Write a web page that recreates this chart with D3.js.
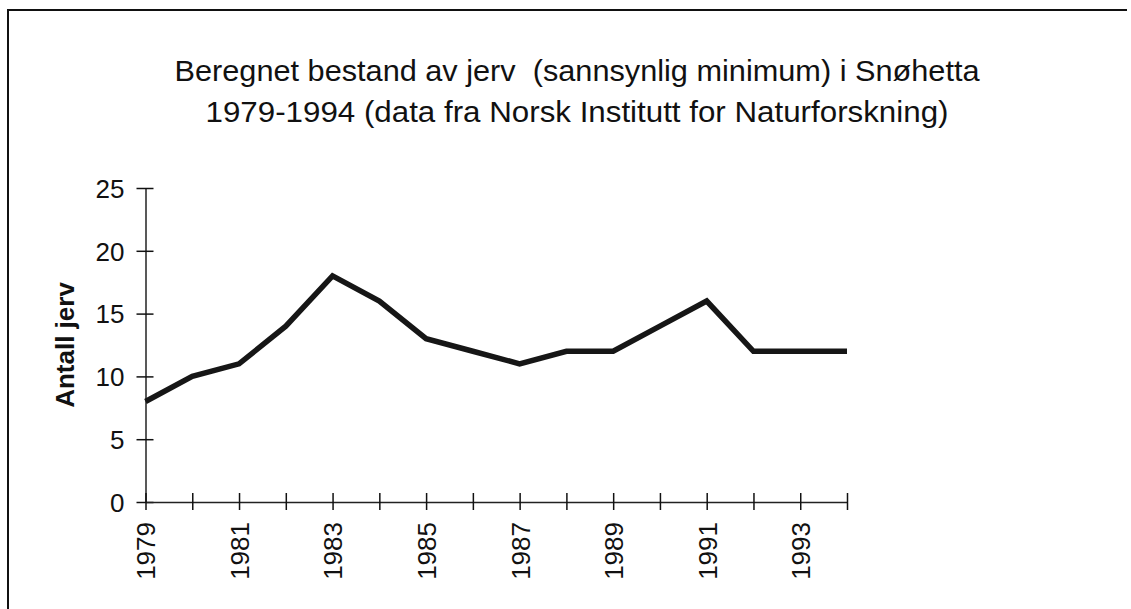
<!DOCTYPE html>
<html>
<head>
<meta charset="utf-8">
<script src="https://cdn.jsdelivr.net/npm/d3@7"></script>
<style>
  html, body { margin: 0; padding: 0; background: #fff; }
  svg { display: block; font-family: "Liberation Sans", Arial, sans-serif; }
</style>
</head>
<body>
<div id="wrapper"></div>
<script>
// data
const years = [1979, 1980, 1981, 1982, 1983, 1984, 1985, 1986, 1987, 1988, 1989, 1990, 1991, 1992, 1993, 1994];
const antall = [8, 10, 11, 14, 18, 16, 13, 12, 11, 12, 12, 14, 16, 12, 12, 12];
const yTicks = [0, 5, 10, 15, 20, 25];
const titleLines = [
    "Beregnet bestand av jerv\u00a0 (sannsynlig minimum) i Snøhetta",
    "1979-1994 (data fra Norsk Institutt for Naturforskning)"
];
const yTitle = "Antall jerv";

const width = 1131, height = 609;

let svg = d3.select("#wrapper")
            .append("svg")
            .attr("width", width)
            .attr("height", height);

// frame remnants of the scan (top + left edge)
svg.append("path")
    .attr("d", `M8,${height} L8,10 L1127,10`)
    .attr("fill", "none")
    .attr("stroke", "#111")
    .attr("stroke-width", 2);

let xScale = d3.scaleLinear()
                .domain([1979, 1994])
                .range([145.5, 847]);

let yScale = d3.scaleLinear()
                .domain([0, 25])
                .range([502, 188]);

// title
const titleWidths = [805, 743];
svg.append("g")
    .selectAll("text")
    .data(titleLines)
    .enter()
    .append("text")
    .attr("x", 577)
    .attr("y", (d, i) => 81 + i * 41)
    .attr("textLength", (d, i) => titleWidths[i])
    .attr("lengthAdjust", "spacingAndGlyphs")
    .style("text-anchor", "middle")
    .style("font-size", "29px")
    .style("fill", "#111")
    .text(d => d);

// y axis
let yAxisFunction = d3.axisLeft(yScale)
                        .tickValues(yTicks)
                        .tickSizeInner(0)
                        .tickSizeOuter(0)
                        .tickPadding(21);

let yG = svg.append("g")
            .attr("class", "axis")
            .attr("transform", `translate(${xScale(1979)}, 0)`)
            .call(yAxisFunction);

yG.select(".domain").attr("stroke", "#222").attr("stroke-width", 1.5);
yG.selectAll(".tick line")
    .attr("x1", -9)
    .attr("x2", 8)
    .attr("stroke", "#111")
    .attr("stroke-width", 1.5);
yG.selectAll(".tick text")
    .style("font-size", "26px")
    .style("font-family", "Liberation Sans, Arial, sans-serif")
    .attr("dy", "0.36em")
    .style("fill", "#111");

// x axis
let xAxisFunction = d3.axisBottom(xScale)
                        .tickValues(years)
                        .tickFormat(d => (d - 1979) % 2 === 0 ? d : "")
                        .tickSizeInner(0)
                        .tickSizeOuter(0);

let xG = svg.append("g")
            .attr("class", "axis")
            .attr("transform", `translate(0, ${yScale(0)})`)
            .call(xAxisFunction);

xG.select(".domain").attr("stroke", "#222").attr("stroke-width", 1.5);
xG.selectAll(".tick line")
    .attr("y1", -9)
    .attr("y2", 8)
    .attr("stroke", "#111")
    .attr("stroke-width", 1.5);
xG.selectAll(".tick text")
    .attr("transform", "rotate(-90)")
    .attr("x", -20)
    .attr("y", 0)
    .attr("dy", "0.36em")
    .style("text-anchor", "end")
    .style("font-size", "26px")
    .style("font-family", "Liberation Sans, Arial, sans-serif")
    .style("fill", "#111");

// y axis title
svg.append("text")
    .attr("transform", `translate(74, 345) rotate(-90)`)
    .style("text-anchor", "middle")
    .style("font-size", "26px")
    .style("font-weight", "700")
    .style("fill", "#111")
    .text(yTitle);

// the line
const dMaker = d3.line()
            .x((d, i) => xScale(years[i]))
            .y(d => yScale(d))
            .curve(d3.curveLinear);

svg.append("path")
    .attr("d", dMaker(antall))
    .attr("fill", "none")
    .attr("stroke", "#161616")
    .attr("stroke-width", 5.5)
    .attr("stroke-linejoin", "miter");
</script>
</body>
</html>
